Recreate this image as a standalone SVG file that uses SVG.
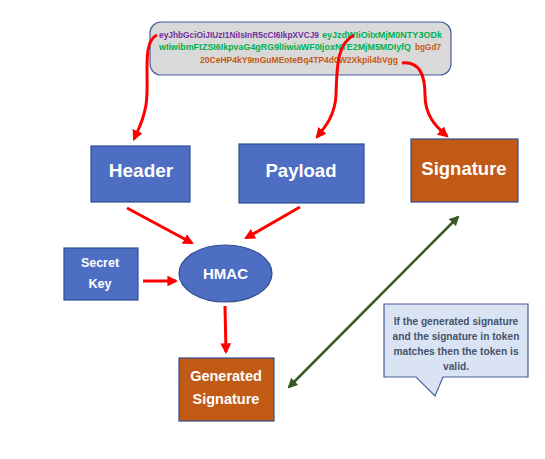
<svg xmlns="http://www.w3.org/2000/svg" width="545" height="459" viewBox="0 0 545 459">
<defs>
<style>
.blue{fill:#4e6ec4;stroke:#2f4f8f;stroke-width:1.2}
.orange{fill:#c15a14;stroke:#2f4f8f;stroke-width:1.2}
.wt{fill:#ffffff;font-family:"Liberation Sans",Arial,sans-serif;font-weight:bold;text-anchor:middle}
.tok{font-family:"Liberation Sans",Arial,sans-serif;font-size:8.5px;font-weight:bold}
.red{fill:none;stroke:#ff0000;stroke-width:3}
.note{fill:#44546a;font-family:"Liberation Sans",Arial,sans-serif;font-weight:bold;font-size:10.2px;text-anchor:middle}
</style>
<marker id="ah" viewBox="0 0 10 10" refX="8" refY="5" markerWidth="3.6" markerHeight="3.6" orient="auto" markerUnits="strokeWidth">
<path d="M0,0 L10,5 L0,10 z" fill="#ff0000"/>
</marker>
<marker id="gh" viewBox="0 0 10 10" refX="8" refY="5" markerWidth="4" markerHeight="4" orient="auto-start-reverse" markerUnits="strokeWidth">
<path d="M0,0 L10,5 L0,10 z" fill="#3b5a23"/>
</marker>
</defs>
<rect width="545" height="459" fill="#ffffff"/>

<g id="token">
<rect x="150" y="22" width="301" height="53" rx="11" fill="#d9d9d9" stroke="#4a5c9a" stroke-width="1.2"/>
<text class="tok" x="159" y="38" fill="#7030a0" textLength="160" lengthAdjust="spacingAndGlyphs">eyJhbGciOiJIUzI1NiIsInR5cCI6IkpXVCJ9</text>
<text class="tok" x="322" y="38" fill="#00b050" textLength="120" lengthAdjust="spacingAndGlyphs">eyJzdWIiOiIxMjM0NTY3ODk</text>
<text class="tok" x="159" y="50" fill="#00b050" textLength="252" lengthAdjust="spacingAndGlyphs">wIiwibmFtZSI6IkpvaG4gRG9lIiwiaWF0IjoxNTE2MjM5MDIyfQ</text>
<text class="tok" x="415" y="50" fill="#c55a11" textLength="26" lengthAdjust="spacingAndGlyphs">bgGd7</text>
<text class="tok" x="200" y="63" fill="#c55a11" textLength="198" lengthAdjust="spacingAndGlyphs">20CeHP4kY9mGuMEoteBq4TP4d0W2Xkpil4bVgg</text>
</g>

<g id="header">
<rect class="blue" x="91" y="146" width="99" height="56"/>
<text class="wt" x="141" y="177" font-size="19">Header</text>
</g>

<g id="payload">
<rect class="blue" x="239" y="144" width="125" height="59"/>
<text class="wt" x="301" y="177" font-size="18.5">Payload</text>
</g>

<g id="signature">
<rect class="orange" x="411" y="139" width="107" height="63"/>
<text class="wt" x="464" y="175" font-size="18.5">Signature</text>
</g>

<g id="secret-key">
<rect class="blue" x="64" y="248" width="74" height="52"/>
<text class="wt" x="100" y="267" font-size="12.5">Secret</text>
<text class="wt" x="100" y="288" font-size="12.5">Key</text>
</g>

<g id="hmac">
<ellipse class="blue" cx="225.5" cy="273.5" rx="46.5" ry="28.5"/>
<text class="wt" x="225.5" y="279" font-size="15">HMAC</text>
</g>

<g id="generated-signature">
<rect class="orange" x="179" y="358" width="95" height="63"/>
<text class="wt" x="226" y="381" font-size="14.5">Generated</text>
<text class="wt" x="226" y="404" font-size="14.5">Signature</text>
</g>

<g id="note">
<path d="M384,304 H528 V377 H443 L435,396 L416,377 H384 Z" fill="#dae3f3" stroke="#4a5c9a" stroke-width="1.2"/>
<text class="note" x="456" y="325">If the generated signature</text>
<text class="note" x="456" y="340">and the signature in token</text>
<text class="note" x="456" y="355">matches then the token is</text>
<text class="note" x="456" y="370">valid.</text>
</g>

<g id="connectors">
<path class="red" marker-end="url(#ah)" d="M157,35 C141,42 150,80 146,105 C143,122 139,128 134,139"/>
<path class="red" marker-end="url(#ah)" d="M354,35 C336,44 337,70 336,95 C335,115 326,126 317,137"/>
<path class="red" marker-end="url(#ah)" d="M402,63 C420,61 425,76 425,95 C425,115 435,126 447,136"/>
<path class="red" marker-end="url(#ah)" d="M127,208 L192,243"/>
<path class="red" marker-end="url(#ah)" d="M300,207 L246,238"/>
<path class="red" marker-end="url(#ah)" d="M143,281 L176,281"/>
<path class="red" marker-end="url(#ah)" d="M225,306 L226,352"/>
<path d="M289,387 L458,217" fill="none" stroke="#3b5a23" stroke-width="2.5" marker-start="url(#gh)" marker-end="url(#gh)"/>
</g>
</svg>
